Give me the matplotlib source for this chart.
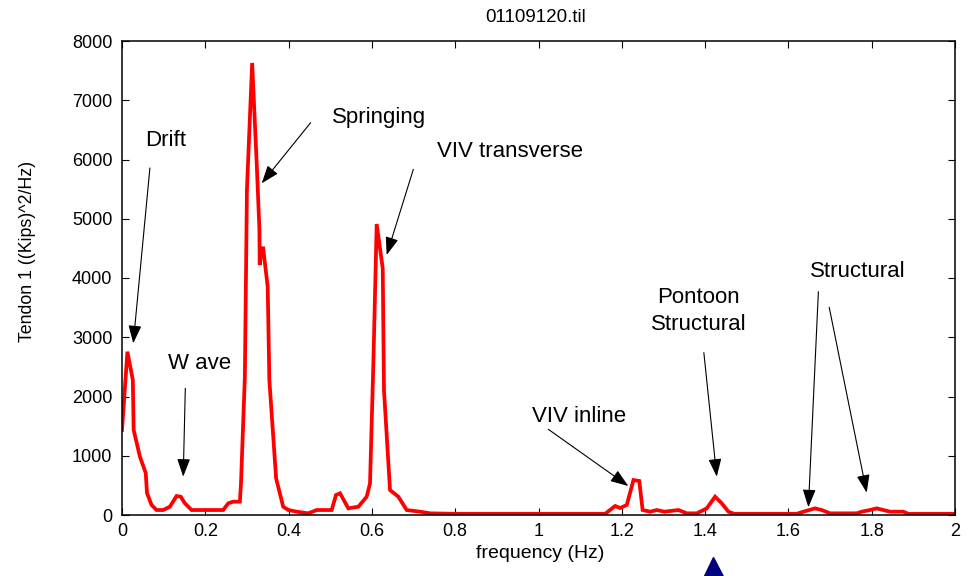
import matplotlib
matplotlib.use("Agg")
import matplotlib.pyplot as plt
from matplotlib.transforms import blended_transform_factory

# Power spectral density of tendon 1 tension
freq_hz = [0.000, 0.013, 0.026, 0.028, 0.043, 0.057, 0.060, 0.071, 0.083, 0.099,
           0.115, 0.131, 0.141, 0.151, 0.167, 0.243, 0.255, 0.267, 0.283, 0.2857,
           0.295, 0.300, 0.3125, 0.3234, 0.330, 0.3306, 0.3354, 0.339, 0.3498, 0.3538,
           0.370, 0.387, 0.3993, 0.4195, 0.447, 0.4675, 0.5035, 0.5138, 0.5235, 0.5435,
           0.5675, 0.5875, 0.5955, 0.6035, 0.6115, 0.626, 0.629, 0.6435, 0.6635, 0.6835,
           0.7155, 0.740, 0.800, 1.160, 1.184, 1.196, 1.212, 1.228, 1.242, 1.250,
           1.268, 1.284, 1.302, 1.336, 1.356, 1.380, 1.404, 1.424, 1.440, 1.456,
           1.470, 1.620, 1.636, 1.664, 1.680, 1.700, 1.764, 1.776, 1.796, 1.812,
           1.828, 1.844, 1.876, 1.888, 2.000]
psd = [1435, 2756, 2278, 1435, 985, 709, 371, 169, 84, 84,
       140, 320, 309, 197, 84, 84, 197, 225, 225, 535,
       2335, 5500, 7630, 5936, 4810, 4219, 4501, 4501, 3854, 2278,
       619, 140, 84, 56, 28, 84, 84, 337, 366, 112,
       140, 309, 535, 2560, 4911, 4163, 2110, 422, 309, 84,
       56, 28, 20, 20, 152, 118, 169, 590, 574, 84,
       56, 84, 56, 84, 28, 28, 112, 309, 197, 56,
       20, 20, 56, 112, 84, 28, 28, 56, 84, 112,
       84, 56, 56, 20, 20]

xticks = [0, 0.2, 0.4, 0.6, 0.8, 1.0, 1.2, 1.4, 1.6, 1.8, 2.0]
xtick_labels = ["0", "0.2", "0.4", "0.6", "0.8", "1", "1.2", "1.4", "1.6", "1.8", "2"]
yticks = [0, 1000, 2000, 3000, 4000, 5000, 6000, 7000, 8000]

# label text, baseline anchor of the last line (x, y), list of arrow (tail, tip) pairs
annotations = [
    ("Drift", (0.105, 6236), [((0.067, 5857), (0.027, 2898))]),
    ("Springing", (0.6163, 6622), [((0.453, 6622), (0.3354, 5598))]),
    ("VIV transverse", (0.9327, 6037), [((0.6995, 5834), (0.6355, 4388))]),
    ("W ave", (0.1866, 2459), [((0.152, 2138), (0.147, 647))]),
    ("VIV inline", (1.098, 1575), [((1.0236, 1446), (1.2157, 489))]),
    ("Pontoon\nStructural", (1.3845, 3122), [((1.397, 2740), (1.428, 647))]),
    ("Structural", (1.767, 4012), [((1.672, 3769), (1.648, 130)),
                                    ((1.698, 3505), (1.788, 377))]),
]

marker_freq = 1.4197

plt.rcParams["font.family"] = ["Liberation Sans", "DejaVu Sans"]

fig = plt.figure(figsize=(9.69, 5.76), dpi=100)
ax = fig.add_axes([122 / 969, 61 / 576, 833 / 969, 474 / 576])

ax.plot(freq_hz, psd, color="#ff0000", linewidth=2.7, solid_joinstyle="miter")

ax.set_xlim(0, 2)
ax.set_ylim(0, 8000)
ax.set_xticks(xticks)
ax.set_xticklabels(xtick_labels)
ax.set_yticks(yticks)
ax.set_yticklabels([str(v) for v in yticks])

ax.tick_params(axis="both", direction="in", length=4.8, width=0.8,
               top=True, right=True, labelsize=13, colors="black")
ax.tick_params(axis="x", pad=6)
ax.tick_params(axis="y", pad=7)
for sp in ax.spines.values():
    sp.set_linewidth(1.1)
    sp.set_color("black")

ax.set_xlabel("frequency (Hz)", fontsize=14)
ax.xaxis.set_label_coords(0.502, -0.064)
ax.set_ylabel("Tendon 1 ((Kips)^2/Hz)", fontsize=12.8)
ax.yaxis.set_label_coords(-0.103, 0.555)

ax.text(0.497, 1.049, "01109120.til", transform=ax.transAxes,
        ha="center", va="center", fontsize=13.5)

for label, (tx, ty), arrows in annotations:
    ax.text(tx, ty, label, ha="center", va="baseline", fontsize=16,
            linespacing=1.38, multialignment="center")
    for tail, tip in arrows:
        ax.annotate("", xy=tip, xytext=tail,
                    arrowprops=dict(arrowstyle="-|>,head_length=1.1,head_width=0.4",
                                    mutation_scale=10, color="black",
                                    linewidth=0.8, shrinkA=0, shrinkB=0))

trans = blended_transform_factory(ax.transData, ax.transAxes)
ax.plot([marker_freq], [-0.1146], marker="^", markersize=18, color="#000080",
        transform=trans, clip_on=False, linestyle="none")

fig.savefig("out.png", dpi=100)
